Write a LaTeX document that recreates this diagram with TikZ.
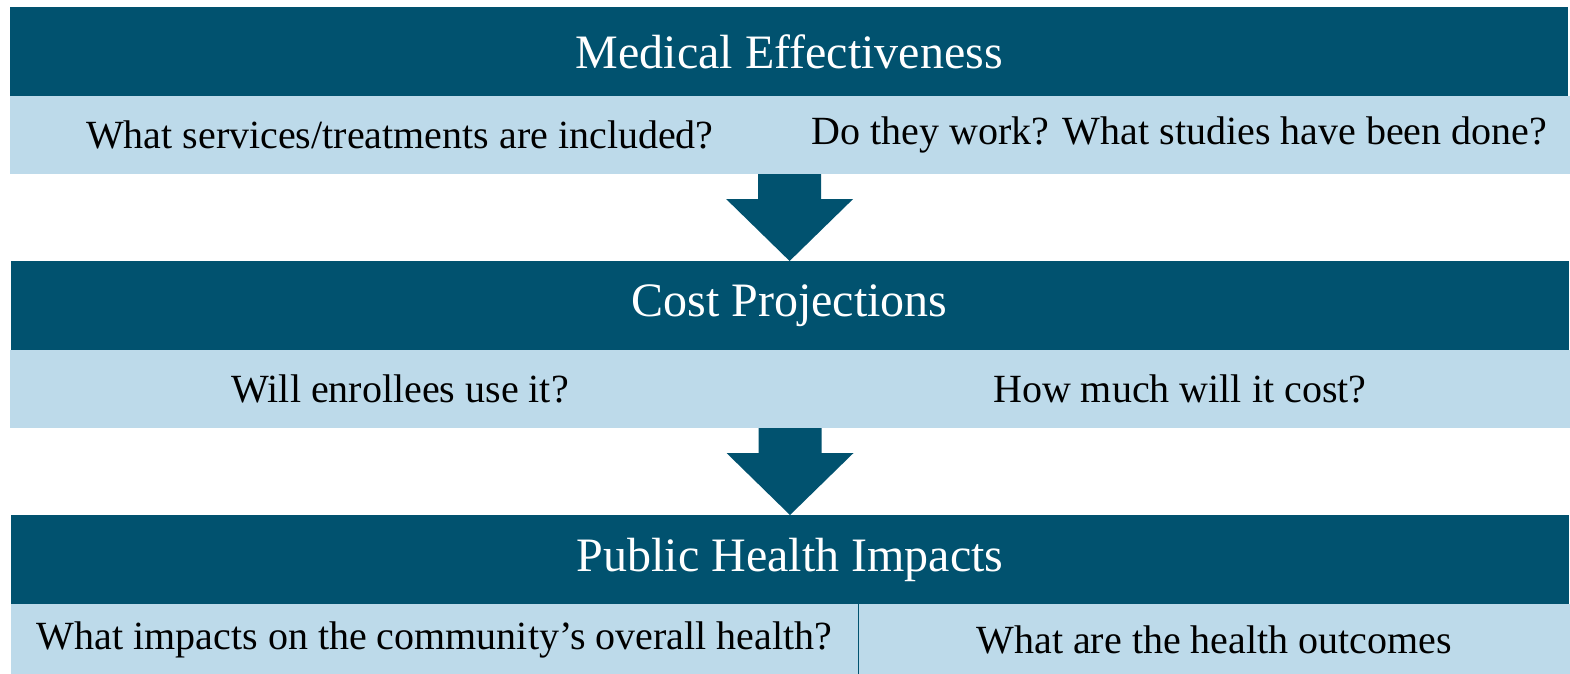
\documentclass[tikz,border=0pt]{standalone}
\usepackage{fontspec}
\setmainfont{Liberation Serif}
\usetikzlibrary{positioning}
\definecolor{darkblue}{HTML}{01526F}
\definecolor{lightblue}{HTML}{BDDAEA}
\tikzstyle{title} = [rectangle, minimum width=1558pt, minimum height=89pt, inner sep=0pt, fill=darkblue, text=white, font=\fontsize{48}{52}\selectfont]
\tikzstyle{question} = [rectangle, minimum width=779pt, minimum height=77pt, inner sep=0pt, fill=lightblue, draw=lightblue, line width=0.6pt, text=black, font=\fontsize{40}{45}\selectfont]
\tikzstyle{blockarrow} = [fill=darkblue]

\begin{document}
\begin{tikzpicture}[x=1pt, y=1pt]
\useasboundingbox (0,0) rectangle (1570,-673);

%first band
\node (ME) [title, anchor=north west] at (10,-7) {Medical Effectiveness};
\node (ME1) [question, below right=0pt and 0pt of ME.south west] {What services/treatments are included?};
\node (ME2) [question, right=0pt of ME1] {Do they work? What studies have been done?};
%second band
\node (CP) [title, below=87pt of ME1.south east] {Cost Projections};
\node (CP1) [question, below right=0pt and 0pt of CP.south west] {Will enrollees use it?};
\node (CP2) [question, right=0pt of CP1] {How much will it cost?};
%third band
\node (PH) [title, below=87pt of CP1.south east] {Public Health Impacts};
\node (PH1) [question, minimum width=847pt, minimum height=71pt, below right=0pt and 0pt of PH.south west] {What impacts on the community’s overall health?};
\node (PH2) [question, minimum width=711pt, minimum height=71pt, right=0pt of PH1] {What are the health outcomes};
\draw [darkblue, line width=1.2pt] (PH1.north east) -- (PH1.south east);

%arrows
\fill [blockarrow] ([xshift=-31.5pt]ME1.south east) -- ++(0,-25) -- ++(-32,0) -- (CP.north) -- ++(63.5,62) -- ++(-32,0) -- ([xshift=31.5pt]ME1.south east) -- cycle;
\fill [blockarrow] ([xshift=-31.5pt]CP1.south east) -- ++(0,-25) -- ++(-32,0) -- (PH.north) -- ++(63.5,62) -- ++(-32,0) -- ([xshift=31.5pt]CP1.south east) -- cycle;

\end{tikzpicture}
\end{document}
